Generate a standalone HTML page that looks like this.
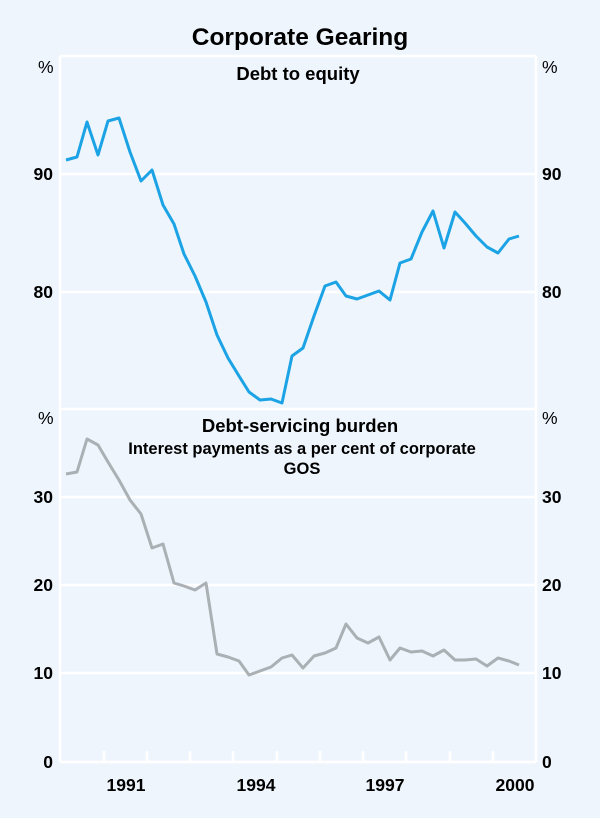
<!DOCTYPE html>
<html><head><meta charset="utf-8"><style>
body{margin:0;background:#eef5fc;}
svg{display:block;font-family:"Liberation Sans",Arial,sans-serif;}
</style></head><body>
<svg width="600" height="818" viewBox="0 0 600 818">
<rect width="600" height="818" fill="#eef5fc"/>
<text x="300" y="45" text-anchor="middle" font-size="24.5" font-weight="bold" fill="#000">Corporate Gearing</text>
<g stroke="#fff" stroke-width="2.5" fill="none">
<line x1="60" y1="56" x2="60" y2="762"/>
<line x1="536" y1="56" x2="536" y2="762"/>
<line x1="60" y1="56" x2="536" y2="56"/>
<line x1="60" y1="174" x2="536" y2="174"/>
<line x1="60" y1="292" x2="536" y2="292"/>
<line x1="60" y1="409" x2="536" y2="409"/>
<line x1="60" y1="497" x2="536" y2="497"/>
<line x1="60" y1="585" x2="536" y2="585"/>
<line x1="60" y1="673" x2="536" y2="673"/>
<line x1="60" y1="762" x2="536" y2="762"/>
<line x1="104" y1="751" x2="104" y2="762"/><line x1="147" y1="751" x2="147" y2="762"/>
<line x1="190" y1="751" x2="190" y2="762"/><line x1="233" y1="751" x2="233" y2="762"/>
<line x1="277" y1="751" x2="277" y2="762"/><line x1="320" y1="751" x2="320" y2="762"/>
<line x1="363" y1="751" x2="363" y2="762"/><line x1="406" y1="751" x2="406" y2="762"/>
<line x1="450" y1="751" x2="450" y2="762"/><line x1="493" y1="751" x2="493" y2="762"/>
</g>
<g font-size="17.5" fill="#000" font-weight="bold">
<text x="38" y="73" font-weight="normal">%</text><text x="542" y="73" font-weight="normal">%</text>
<text x="38" y="424" font-weight="normal">%</text><text x="542" y="424" font-weight="normal">%</text>
<g text-anchor="end"><text x="53" y="180">90</text><text x="53" y="298">80</text>
<text x="53" y="503">30</text><text x="53" y="591">20</text><text x="53" y="679">10</text><text x="53" y="768">0</text></g>
<text x="542" y="180">90</text><text x="542" y="298">80</text>
<text x="542" y="503">30</text><text x="542" y="591">20</text><text x="542" y="679">10</text><text x="542" y="768">0</text>
<g text-anchor="middle"><text x="126" y="791">1991</text><text x="256" y="791">1994</text><text x="385" y="791">1997</text><text x="515" y="791">2000</text></g>
<text x="298" y="80" text-anchor="middle" font-size="18.5">Debt to equity</text>
<text x="300" y="432" text-anchor="middle" font-size="18.5">Debt-servicing burden</text>
<text x="302" y="454" text-anchor="middle" font-size="16.5">Interest payments as a per cent of corporate</text>
<text x="302" y="474" text-anchor="middle" font-size="16.5">GOS</text>
</g>
<polyline fill="none" stroke="#1ba3e5" stroke-width="3" stroke-linejoin="round" points="66,160 77,157 87,122 98,155 108,121 119,118 130,152 141,181 152,170 163,205 174,224 184,254 195,276 206,302 217,335 228,358 239,376 249,392 260,400 271,399 282,403 292,356 303,348 314,316 325,286 336,282 346,296 357,299 368,295 379,291 390,300 400,263 411,259 422,232 433,211 444,248 455,212 465,223 476,236 487,247 498,253 509,239 519,236"/>
<polyline fill="none" stroke="#aab0b4" stroke-width="3" stroke-linejoin="round" points="66,474 77,472 87,439 98,445 108,462 119,480 130,500 141,514 152,548 163,544 174,583 184,586 195,590 206,583 217,654 228,657 239,661 249,675 260,671 271,667 282,658 292,655 303,668 314,656 325,653 336,648 346,624 357,638 368,643 379,637 390,660 400,648 411,652 422,651 433,656 444,650 455,660 465,660 476,659 487,666 498,658 509,661 519,665"/>
</svg>
</body></html>
